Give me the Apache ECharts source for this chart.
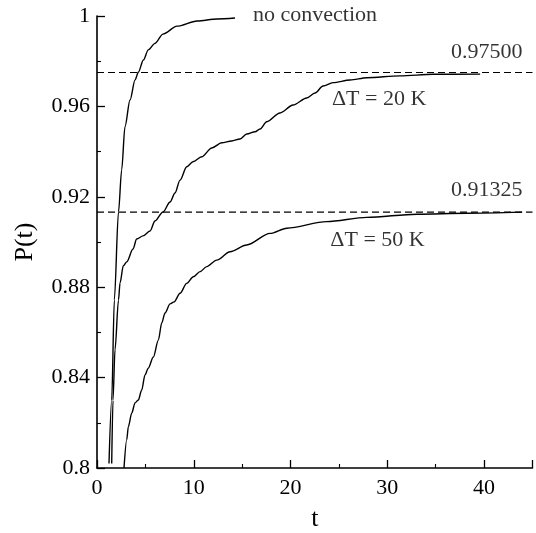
<!DOCTYPE html>
<html><head><meta charset="utf-8">
<script src="https://cdn.jsdelivr.net/npm/echarts@6/dist/echarts.min.js"></script>
<style>html,body{margin:0;padding:0;background:#fff}#c{width:536px;height:533px}</style>
</head><body><div id="c"></div>
<script>
// ---- data ----
const tNoConv = [1.24,1.52,1.79,2.22,2.55,2.89,3.41,3.93,4.27,4.79,5.30,5.99,6.82,8.27,10.34,12.40,14.26];
const pNoConv = [0.802,0.8301,0.8743,0.9133,0.9319,0.951,0.9628,0.9717,0.9751,0.9805,0.985,0.9879,0.992,0.9955,0.9978,0.9987,0.9991];

const t20 = [1.52,1.65,1.86,2.22,2.38,2.72,3.07,3.72,4.10,4.75,5.48,5.99,6.82,7.55,8.06,8.58,9.27,9.92,10.82,11.86,12.89,13.92,14.78,15.47,16.33,16.85,17.54,18.91,20.26,21.67,22.53,23.36,24.39,26.15,27.88,31.32,34.73,39.59];
const p20 = [0.802,0.830,0.8523,0.8743,0.8819,0.8895,0.8912,0.8969,0.9013,0.9027,0.9049,0.9093,0.9133,0.9177,0.9217,0.9274,0.9333,0.9355,0.9377,0.9416,0.9439,0.9447,0.9456,0.9478,0.9488,0.95,0.9532,0.9571,0.9606,0.9637,0.9659,0.969,0.9705,0.9717,0.9727,0.9735,0.9742,0.9743];

const t50 = [2.79,3.07,3.24,3.59,3.93,4.27,4.62,4.96,5.30,5.82,6.34,6.69,7.03,7.55,7.96,8.58,9.27,9.95,10.65,11.34,12.37,13.75,15.47,17.88,19.61,23.74,27.88,33.04,38.21,43.93];
const p50 = [0.8,0.8124,0.8183,0.8243,0.8288,0.8301,0.8345,0.8412,0.8442,0.8491,0.8566,0.8642,0.8686,0.8726,0.8735,0.8773,0.8817,0.8846,0.8869,0.8891,0.892,0.8957,0.8987,0.9038,0.9061,0.909,0.9109,0.9123,0.9127,0.9132];

const limits = [0.975, 0.91325];
const limitLabels = ['0.97500', '0.91325'];
const curveNames = ['no convection', 'ΔT = 20 K', 'ΔT = 50 K'];
const tRange = [0, 45];

// ---- chart ----
const FONT = "'Liberation Serif','Times New Roman',serif";
const zip = (a, b) => a.map((v, i) => [v, b[i]]);
const lineSeries = (d) => ({
  type: 'line', data: d, showSymbol: false, silent: true,
  smooth: 0.3, smoothMonotone: 'x',
  lineStyle: { color: '#000', width: 1.4 }, z: 3
});
const dashSeries = (v) => ({
  type: 'line', data: [[tRange[0], v], [tRange[1], v]], showSymbol: false, silent: true,
  lineStyle: { color: '#000', width: 1.2, type: [7, 4] }, z: 2
});

const chart = echarts.init(document.getElementById('c'), null, { renderer: 'canvas' });
chart.setOption({
  animation: false,
  backgroundColor: '#fff',
  grid: { left: 97, top: 16, width: 435.5, height: 452, containLabel: false, outerBoundsMode: 'none' },
  xAxis: {
    type: 'value', min: tRange[0], max: tRange[1], interval: 10,
    name: 't', nameLocation: 'middle', nameGap: 38,
    nameTextStyle: { fontFamily: FONT, fontSize: 26, color: '#000' },
    axisLine: { show: true, lineStyle: { color: '#000', width: 1.6 } },
    axisTick: { show: true, inside: true, length: 8, lineStyle: { color: '#000', width: 1.3 } },
    minorTick: { show: true, splitNumber: 2, length: 4, lineStyle: { color: '#000', width: 1.1 } },
    splitLine: { show: false },
    axisLabel: { fontFamily: FONT, fontSize: 22, color: '#000', margin: 9, showMaxLabel: false }
  },
  yAxis: {
    type: 'value', min: 0.8, max: 1, interval: 0.04,
    name: 'P(t)', nameLocation: 'middle', nameGap: 59,
    nameTextStyle: { fontFamily: FONT, fontSize: 26, color: '#000' },
    axisLine: { show: true, lineStyle: { color: '#000', width: 1.6 } },
    axisTick: { show: true, inside: true, length: 8, lineStyle: { color: '#000', width: 1.3 } },
    minorTick: { show: true, splitNumber: 2, length: 4, lineStyle: { color: '#000', width: 1.1 } },
    splitLine: { show: false },
    axisLabel: { fontFamily: FONT, fontSize: 22, color: '#000', margin: 7 }
  },
  series: [
    lineSeries(zip(tNoConv, pNoConv)),
    lineSeries(zip(t20, p20)),
    lineSeries(zip(t50, p50)),
    dashSeries(limits[0]),
    dashSeries(limits[1]),
    {
      type: 'scatter', symbolSize: 0, silent: true, clip: false,
      label: {
        show: true, position: 'inside', color: '#000',
        fontFamily: FONT, fontSize: 22,
        formatter: p => p.value[2]
      },
      data: [
        [22.53, 1.0003, curveNames[0]],
        [40.26, 0.9839, limitLabels[0]],
        [29.15, 0.9630, curveNames[1]],
        [40.26, 0.9229, limitLabels[1]],
        [28.99, 0.9006, curveNames[2]]
      ]
    }
  ]
});
</script></body></html>
